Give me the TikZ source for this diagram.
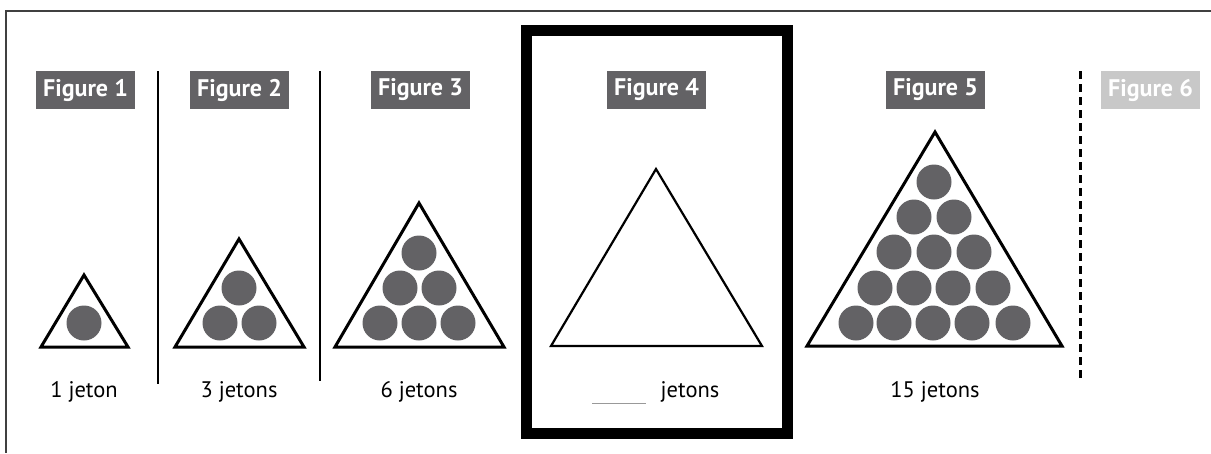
\documentclass[tikz,border=0pt]{standalone}
\usepackage{fontspec}
\setmainfont{PT Sans}
\usetikzlibrary{positioning}
\definecolor{jetongray}{HTML}{636265}
\definecolor{palegray}{HTML}{C8C8C8}

\begin{document}
\begin{tikzpicture}[x=1pt,y=-1pt]
	\tikzset{figlabel/.style={fill=jetongray, text=white, font=\bfseries\fontsize{24}{24}\selectfont,
	    minimum width=99pt, minimum height=38pt, inner sep=0pt}}
	\tikzset{count/.style={font=\fontsize{22.5}{22.5}\selectfont, inner sep=0pt}}
	\tikzset{jeton/.style={circle, fill=jetongray, minimum size=35pt, inner sep=0pt}}
	\tikzset{tri/.style={line width=3pt, line join=miter}}
	\useasboundingbox (0,0) rectangle (1211,453);

	% frame
	\draw[line width=2pt, black!75] (1211,10.5) -- (5.5,10.5) -- (5.5,453);
	\draw[line width=11pt] (526.5,30.5) rectangle (787.5,433.5);

	% separators
	\coordinate (s1a) at (158,71);
	\coordinate (s1b) at (158,384);
	\coordinate (s2a) at (320,71);
	\coordinate (s2b) at (320,381);
	\coordinate (s3a) at (1080,71);
	\coordinate (s3b) at (1080,381);
	\draw[line width=2.5pt] (s1a) -- (s1b);
	\draw[line width=2.5pt] (s2a) -- (s2b);
	\draw[line width=3pt, dash pattern=on 8pt off 5pt] (s3a) -- (s3b);

	% labels
	\node[figlabel] (fig1) at (85.5,90) {Figure 1};
	\node[figlabel] (fig2) at (239.5,90) {Figure 2};
	\node[figlabel] (fig3) at (420.5,90) {Figure 3};
	\node[figlabel] (fig4) at (656.5,90) {Figure 4};
	\node[figlabel] (fig5) at (935.5,90) {Figure 5};
	\node[figlabel, fill=palegray] (fig6) at (1150.5,90) {Figure 6};

	% triangles
	\draw[tri] (84,275) -- (128,347) -- (41,347) -- cycle;
	\draw[tri] (239,239) -- (304,347) -- (175,347) -- cycle;
	\draw[tri] (419,203) -- (504,347) -- (335,347) -- cycle;
	\draw[tri, line width=2.2pt] (656,169) -- (762,346) -- (551,346) -- cycle;
	\draw[tri] (935,132) -- (1062,346) -- (807,346) -- cycle;

	% jetons
	\node[jeton] (a11) at (84,323) {};

	\node[jeton] (b11) at (239,288) {};
	\node[jeton] (b21) at (220,323) {};
	\node[jeton] (b22) at (259,323) {};

	\node[jeton] (c11) at (419,253) {};
	\node[jeton] (c21) at (400,288) {};
	\node[jeton] (c22) at (439,288) {};
	\node[jeton] (c31) at (380,323) {};
	\node[jeton] (c32) at (419,323) {};
	\node[jeton] (c33) at (458,323) {};

	\node[jeton] (e11) at (934,182) {};
	\node[jeton] (e21) at (914,217) {};
	\node[jeton] (e22) at (954,217) {};
	\node[jeton] (e31) at (894,252) {};
	\node[jeton] (e32) at (934,252) {};
	\node[jeton] (e33) at (974,252) {};
	\node[jeton] (e41) at (875,288) {};
	\node[jeton] (e42) at (914,288) {};
	\node[jeton] (e43) at (953,288) {};
	\node[jeton] (e44) at (993,288) {};
	\node[jeton] (e51) at (856,323) {};
	\node[jeton] (e52) at (894,323) {};
	\node[jeton] (e53) at (933,323) {};
	\node[jeton] (e54) at (972,323) {};
	\node[jeton] (e55) at (1013,323) {};

	% counts
	\node[count] (n1) at (84,392) {1 jeton};
	\node[count] (n2) at (239,392) {3 jetons};
	\node[count] (n3) at (419,392) {6 jetons};
	\node[count] (n4) at (690,392) {jetons};
	\coordinate (blank) at (592,403);
	\draw[black!40, line width=1pt] (blank) -- ++(54,0);
	\node[count] (n5) at (935,392) {15 jetons};
\end{tikzpicture}
\end{document}
